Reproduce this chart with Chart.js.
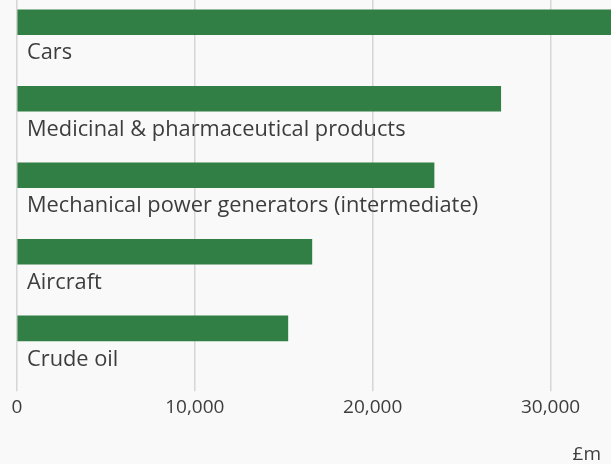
<!DOCTYPE html>
<html>
<head>
<meta charset="utf-8">
<script src="https://cdn.jsdelivr.net/npm/chart.js@4"></script>
<style>
  html, body { margin: 0; padding: 0; background: #f9f9f9; }
  #wrap { position: relative; width: 611px; height: 464px; }
</style>
</head>
<body>
<div id="wrap"><canvas id="chart"></canvas></div>
<script>
// top exports, £m
const categories = ["Cars", "Medicinal & pharmaceutical products", "Mechanical power generators (intermediate)", "Aircraft", "Crude oil"];
const exportValues = [34500, 27200, 23450, 16580, 15230];
const xTicks = [0, 10000, 20000, 30000];
const unitLabel = '£m';

const barGreen = '#317f45';
const textGrey = '#3d3d3d';

// label under each bar + unit text bottom right
const barLabels = {
  id: 'barLabels',
  afterDatasetsDraw(chart) {
    const ctx = chart.ctx;
    const meta = chart.getDatasetMeta(0);
    ctx.save();
    ctx.font = '21.8px "Open Sans"';
    ctx.fillStyle = textGrey;
    ctx.textBaseline = 'middle';
    ctx.textAlign = 'left';
    meta.data.forEach((bar, i) => {
      ctx.fillText(categories[i], chart.chartArea.left + 10, bar.y + 31);
    });
    ctx.font = '19px "Open Sans"';
    ctx.textAlign = 'right';
    ctx.fillText(unitLabel, 601, 455);
    ctx.restore();
  }
};

const ctx = document.getElementById('chart').getContext('2d');
new Chart(ctx, {
  type: 'bar',
  data: {
    datasets: [{
      data: exportValues.map((v, i) => ({ x: v, y: i })),
      backgroundColor: barGreen,
      barThickness: 25
    }]
  },
  options: {
    indexAxis: 'y',
    responsive: true,
    maintainAspectRatio: false,
    animation: false,
    layout: { padding: { left: 17, right: 0, top: 0, bottom: 40 } },
    plugins: {
      legend: { display: false },
      tooltip: { enabled: false }
    },
    scales: {
      y: {
        type: 'linear',
        display: false,
        reverse: true,
        offset: false,
        min: -0.2903,
        max: 4.665
      },
      x: {
        min: 0,
        max: 33400,
        border: { display: false },
        grid: { color: '#d6d6d6', lineWidth: 1.5, tickLength: 12 },
        afterBuildTicks(scale) {
          scale.ticks = xTicks.map(v => ({ value: v }));
        },
        ticks: {
          padding: 5,
          color: textGrey,
          font: { family: 'Open Sans', size: 19 },
          callback: v => v.toLocaleString('en-GB')
        }
      }
    }
  },
  plugins: [barLabels]
});
</script>
</body>
</html>
